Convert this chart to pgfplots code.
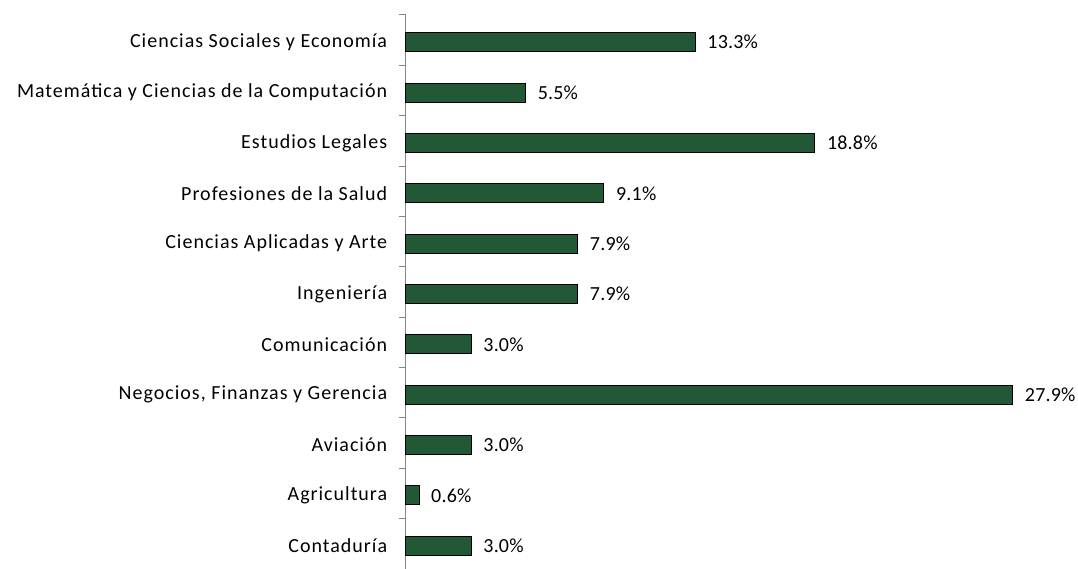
\documentclass[border=0pt]{standalone}
\usepackage{pgfplots}
\pgfplotsset{compat=1.18}
\usepackage{fontspec}
\setmainfont{Carlito}[LetterSpace=5]
\newfontfamily\numfont{Carlito}[LetterSpace=1]
\definecolor{bargreen}{RGB}{34,88,54}
\definecolor{axisgray}{RGB}{134,134,134}

\begin{document}
\fontsize{20}{24}\selectfont
\begin{tikzpicture}
\begin{axis}[
    xbar,
    scale only axis,
    width=606.8pt,
    height=554pt,
    xmin=0, xmax=27.9,
    ymin=-0.5, ymax=10.5,
    y dir=reverse,
    axis y line*=left,
    axis x line=none,
    y axis line style={axisgray, line width=1pt},
    ytick={0,...,10},
    yticklabels={Ciencias Sociales y Economía, Matemática y Ciencias de la Computación, Estudios Legales, Profesiones de la Salud, Ciencias Aplicadas y Arte, Ingeniería, Comunicación, {Negocios, Finanzas y Gerencia}, Aviación, Agricultura, Contaduría},
    major tick length=0pt,
    minor ytick={-0.5,0.5,...,10.5},
    minor tick length=7pt,
    tick align=outside,
    minor tick style={axisgray, line width=1pt},
    yticklabel style={font=\fontsize{20}{24}\selectfont, xshift=-12pt, yshift=-2pt},
    bar width=19pt,
    bar shift=-2pt,
    clip=false,
    /pgf/number format/assume math mode=true,
    nodes near coords={\pgfmathprintnumber[fixed,fixed zerofill,precision=1]{\pgfplotspointmeta}\%},
    nodes near coords style={font=\numfont\fontsize{20}{24}\selectfont, anchor=west, xshift=5pt},
]
\addplot[fill=bargreen, draw=black, line width=1pt] coordinates {
    (13.3,0) (5.5,1) (18.8,2) (9.1,3) (7.9,4) (7.9,5) (3.0,6) (27.9,7) (3.0,8) (0.6,9) (3.0,10)
};
\end{axis}
\pgfresetboundingbox
\path[use as bounding box] (-406pt,0pt) rectangle (672pt,569pt);
\end{tikzpicture}
\end{document}
